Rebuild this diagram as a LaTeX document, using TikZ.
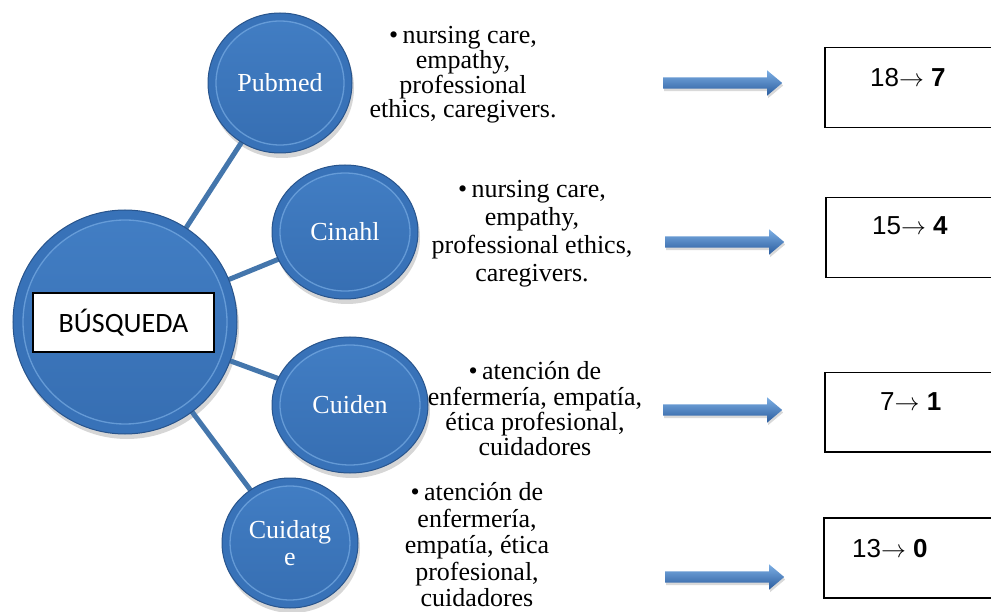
\documentclass[tikz,border=0pt]{standalone}
\usepackage{fontspec}
\setmainfont{Liberation Serif}
\newfontfamily\calfont{Carlito}
\newfontfamily\arifont{Liberation Sans}
\usetikzlibrary{shapes.geometric,shapes.arrows,shadows,calc}
\definecolor{bubA}{RGB}{56,114,184}
\definecolor{bubB}{RGB}{40,84,140}
\definecolor{bubL}{RGB}{120,172,228}
\definecolor{bubI}{RGB}{66,126,196}
\definecolor{bubJ}{RGB}{54,110,178}
\definecolor{linkc}{RGB}{68,118,172}
\definecolor{arrT}{RGB}{125,175,228}
\definecolor{arrB}{RGB}{42,92,158}
\pgfdeclarelayer{shadowlayer}
\pgfdeclarelayer{background}
\pgfsetlayers{shadowlayer,background,main}
\tikzset{
 bub/.style={ellipse, draw=bubB, line width=1pt, fill=bubA, inner sep=0pt,
   text=white, font=\fontsize{26}{27}\selectfont, align=center},
 link/.style={draw=linkc, line width=5pt},
 shad/.style={fill=black, opacity=0.16},
 blockarrow/.style={single arrow, draw=none, inner xsep=0pt, inner ysep=5.5pt,
   text height=0pt, text depth=0pt,
   minimum height=119pt, single arrow head extend=7pt, single arrow tip angle=80,
   top color=arrT, bottom color=arrB, anchor=tail,
   drop shadow={opacity=0.3, shadow xshift=1pt, shadow yshift=-2.5pt}},
 numbox/.style={draw=black, line width=1.5pt, fill=white, anchor=north west,
   minimum width=185pt, minimum height=80pt, inner sep=0pt},
 numtext/.style={font=\arifont\fontsize{26}{28}\selectfont, anchor=base west, inner sep=0pt},
 kw/.style={align=center, inner sep=0pt, font=\fontsize{26}{#1}\selectfont},
}
\newcommand\bubble[7]{% name, x, y, rx, ry, inset, text
  \begin{pgfonlayer}{shadowlayer}
    \fill[shad] (#2+2,#3+5) ellipse [x radius=#4, y radius=#5];
  \end{pgfonlayer}
  \node[bub, minimum width={2*#4*1pt}, minimum height={2*#5*1pt},
    path picture={
      \shade[top color=bubI, bottom color=bubJ]
        (path picture bounding box.center) ellipse [x radius={(#4-#6)*1pt}, y radius={(#5-#6)*1pt}];
      \draw[bubL, line width=1.3pt, opacity=0.7]
        (path picture bounding box.center) ellipse [x radius={(#4-#6)*1pt}, y radius={(#5-#6)*1pt}];
    }] (#1) at (#2,#3) {#7};
}
\begin{document}
\begin{tikzpicture}[x=1pt,y=-1pt]
\useasboundingbox (0,0) rectangle (991,612);
% bubbles
\bubble{main}{125}{322}{112}{112}{10}{}
\bubble{pub}{280}{83}{72}{70}{8}{Pubmed}
\bubble{cin}{345}{232}{73}{67}{8}{Cinahl}
\bubble{cui}{350}{405}{78}{68}{8}{Cuiden}
\bubble{cdt}{290}{543}{68}{65}{8}{Cuidatg\\e}
% connectors
\begin{pgfonlayer}{background}
  \draw[link] (main.center) -- (pub.center);
  \draw[link] (main.center) -- (cin.center);
  \draw[link] (main.center) -- (cui.center);
  \draw[link] (main.center) -- (cdt.center);
\end{pgfonlayer}
% central label
\node[draw=black, line width=2pt, fill=white, minimum width=181pt, minimum height=59pt,
  inner sep=0pt, font=\calfont\fontsize{28}{30}\selectfont] (q) at (123.5,322.5) {BÚSQUEDA};
% keyword texts
\node[kw=22.7] (t1) at (463,75) {•\,nursing care,\\empathy,\\professional\\ethics, caregivers.};
\node[kw=28] (t2) at (532,234) {•\,nursing care,\\empathy,\\professional ethics,\\caregivers.};
\node[kw=25.3] (t3) at (535,409) {•\,atención de\\enfermería, empatía,\\ética profesional,\\cuidadores};
\node[kw=26.5] (t4) at (477,545) {•\,atención de\\enfermería,\\empatía, ética\\profesional,\\cuidadores};
% block arrows
\node[blockarrow] (a1) at (663,83) {};
\node[blockarrow] (a2) at (665,242) {};
\node[blockarrow] (a3) at (663,410) {};
\node[blockarrow] (a4) at (665,577) {};
% result boxes
\node[numbox] (b1) at (824,47) {};
\node[numbox] (b2) at (825,197) {};
\node[numbox, minimum height=79pt] (b3) at (824,372) {};
\node[numbox] (b4) at (823,517) {};
\node[numtext] (n1) at (870,87) {18$\rightarrow$ \textbf{7}};
\node[numtext] (n2) at (872,235) {15$\rightarrow$ \textbf{4}};
\node[numtext] (n3) at (880,410) {7$\rightarrow$ \textbf{1}};
\node[numtext] (n4) at (852,557) {13$\rightarrow$ \textbf{0}};
\end{tikzpicture}
\end{document}
